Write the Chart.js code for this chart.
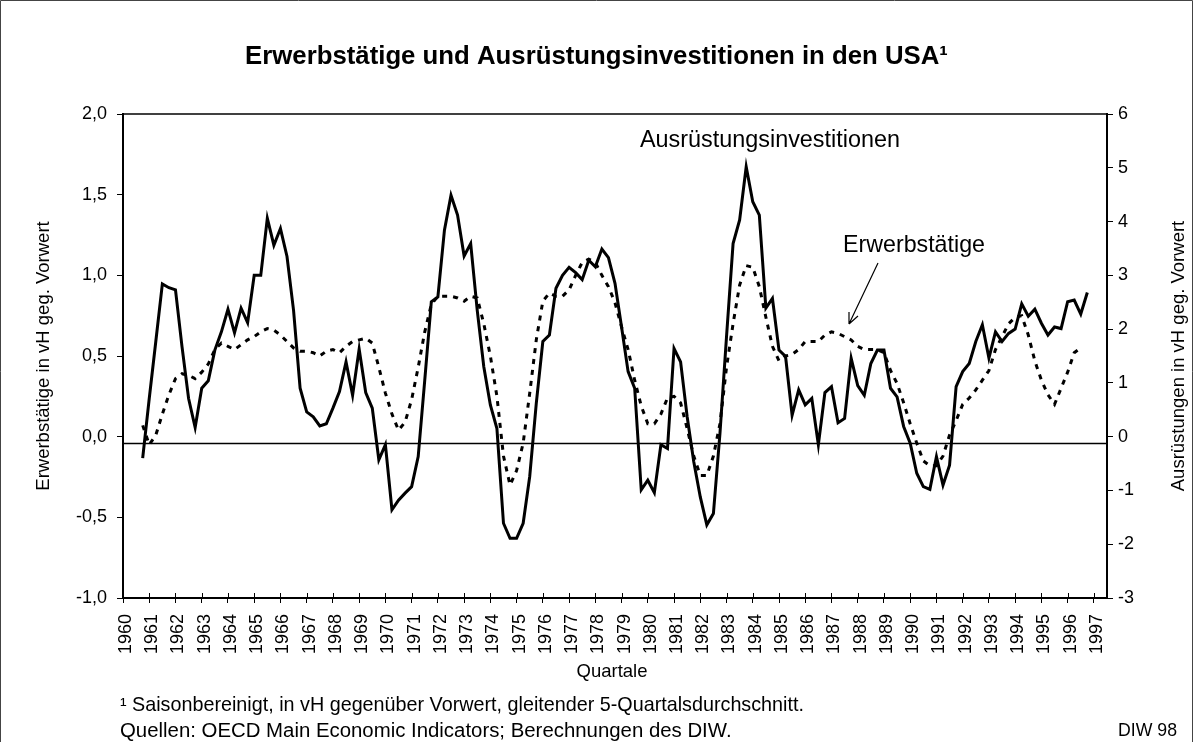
<!DOCTYPE html>
<html lang="de">
<head>
<meta charset="utf-8">
<title>Erwerbstätige und Ausrüstungsinvestitionen in den USA</title>
<script src="https://cdn.jsdelivr.net/npm/chart.js@4.4.1/dist/chart.umd.min.js"></script>
<style>
    html, body { margin: 0; padding: 0; background: #fff; }
    #wrap { position: relative; width: 1193px; height: 742px; }
</style>
</head>
<body>
<div id="wrap"><canvas id="usaChart"></canvas></div>
<script>
// Quartalswerte, gleitender 5-Quartalsdurchschnitt, ab 1960 Q4
const START = 1960.75;

// Ausrüstungsinvestitionen (rechte Achse)
const investitionen = [
    -0.40, 0.71, 1.77, 2.84, 2.77, 2.73, 1.67, 0.71, 0.17, 0.90,
    1.04, 1.61, 1.95, 2.37, 1.93, 2.39, 2.12, 3.00, 3.00, 4.06,
    3.56, 3.87, 3.35, 2.35, 0.90, 0.46, 0.37, 0.20, 0.24, 0.53,
    0.84, 1.39, 0.77, 1.63, 0.82, 0.53, -0.43, -0.15, -1.36, -1.18,
    -1.05, -0.93, -0.37, 1.05, 2.51, 2.60, 3.84, 4.49, 4.12, 3.36,
    3.59, 2.35, 1.30, 0.59, 0.15, -1.61, -1.89, -1.89, -1.61, -0.74,
    0.62, 1.77, 1.89, 2.76, 3.00, 3.15, 3.05, 2.92, 3.28, 3.16,
    3.49, 3.33, 2.85, 2.04, 1.21, 0.90, -0.99, -0.81, -1.04, -0.15,
    -0.22, 1.64, 1.39, 0.37, -0.46, -1.12, -1.64, -1.43, 0.06, 1.86,
    3.59, 4.03, 5.02, 4.37, 4.12, 2.39, 2.57, 1.61, 1.49, 0.40,
    0.87, 0.59, 0.71, -0.15, 0.82, 0.93, 0.26, 0.34, 1.46, 0.95,
    0.77, 1.36, 1.61, 1.61, 0.90, 0.74, 0.19, -0.12, -0.68, -0.93,
    -0.98, -0.37, -0.90, -0.53, 0.93, 1.21, 1.36, 1.77, 2.08, 1.46,
    1.95, 1.77, 1.92, 2.00, 2.47, 2.24, 2.37, 2.11, 1.89, 2.04,
    2.01, 2.51, 2.54, 2.28, 2.68
];

// Erwerbstätige (linke Achse)
const erwerbstaetige = [
    0.07, -0.05, 0.01, 0.14, 0.26, 0.36, 0.39, 0.38, 0.36, 0.40,
    0.45, 0.54, 0.58, 0.56, 0.54, 0.57, 0.60, 0.62, 0.65, 0.67,
    0.66, 0.63, 0.59, 0.55, 0.53, 0.53, 0.52, 0.50, 0.53, 0.54,
    0.52, 0.56, 0.59, 0.60, 0.61, 0.58, 0.43, 0.27, 0.14, 0.04,
    0.09, 0.23, 0.43, 0.65, 0.82, 0.87, 0.87, 0.87, 0.86, 0.84,
    0.87, 0.86, 0.70, 0.50, 0.25, -0.12, -0.30, -0.21, -0.04, 0.27,
    0.60, 0.84, 0.89, 0.87, 0.87, 0.91, 1.00, 1.08, 1.10, 1.08,
    1.00, 0.93, 0.83, 0.68, 0.54, 0.35, 0.19, 0.08, 0.08, 0.14,
    0.24, 0.25, 0.21, 0.05, -0.12, -0.24, -0.24, -0.12, 0.08, 0.43,
    0.70, 0.94, 1.06, 1.05, 0.93, 0.74, 0.56, 0.47, 0.50, 0.51,
    0.54, 0.59, 0.59, 0.59, 0.63, 0.65, 0.64, 0.62, 0.60, 0.56,
    0.54, 0.54, 0.54, 0.52, 0.41, 0.33, 0.21, 0.08, -0.04, -0.15,
    -0.18, -0.18, -0.12, 0.01, 0.10, 0.20, 0.24, 0.29, 0.35, 0.41,
    0.54, 0.62, 0.70, 0.74, 0.75, 0.63, 0.47, 0.35, 0.26, 0.20,
    0.30, 0.40, 0.52, 0.55
];

const JAHRE = [];
for (let j = 1960; j <= 1997; j++) JAHRE.push(j);

const NULLLINIE = -0.04;   // waagerechte Linie liegt knapp unter 0,0
const FONT = "'Liberation Sans', Arial, sans-serif";

Chart.defaults.font.family = FONT;
Chart.defaults.color = "#000";

function toPoints(values) {
    return values.map((v, i) => ({ x: START + i / 4, y: v }));
}

// Text auf eine Zielbreite bringen (Schriftgröße daraus ableiten)
function fitText(ctx, text, x, y, width, opts = {}) {
    const weight = opts.bold ? "bold " : "";
    ctx.font = weight + "100px " + FONT;
    const size = 100 * width / ctx.measureText(text).width;
    ctx.font = weight + size.toFixed(2) + "px " + FONT;
    ctx.textAlign = opts.align || "left";
    ctx.textBaseline = "middle";
    ctx.fillText(text, x, y);
}

function plainText(ctx, text, x, y, size, opts = {}) {
    ctx.save();
    ctx.font = (opts.bold ? "bold " : "") + size + "px " + FONT;
    ctx.textAlign = opts.align || "center";
    ctx.textBaseline = "middle";
    ctx.translate(x, y);
    if (opts.rotate) ctx.rotate(opts.rotate);
    ctx.fillText(text, 0, 0);
    ctx.restore();
}

// ✅ Rahmen, Nulllinie, Beschriftungen
const diwDecor = {
    id: "diwDecor",
    beforeDatasetsDraw(chart) {
        const { ctx, chartArea: a, scales } = chart;
        const y0 = Math.round(scales.yLeft.getPixelForValue(NULLLINIE)) + 0.5;
        ctx.save();
        ctx.strokeStyle = "#000";
        ctx.lineWidth = 1.5;
        ctx.beginPath();
        ctx.moveTo(a.left, y0);
        ctx.lineTo(a.right, y0);
        ctx.stroke();
        ctx.restore();
    },
    afterDraw(chart) {
        const { ctx, chartArea: a, scales } = chart;
        ctx.save();
        ctx.fillStyle = "#000";
        ctx.strokeStyle = "#000";

        // obere Begrenzung der Zeichenfläche
        ctx.lineWidth = 1.5;
        ctx.beginPath();
        ctx.moveTo(a.left, a.top);
        ctx.lineTo(a.right, a.top);
        ctx.stroke();

        // Teilstriche der Zeitachse gehen durch die Achse
        ctx.lineWidth = 1;
        JAHRE.forEach(j => {
            const x = Math.round(scales.x.getPixelForValue(j)) + 0.5;
            ctx.beginPath();
            ctx.moveTo(x, a.bottom - 5);
            ctx.lineTo(x, a.bottom);
            ctx.stroke();
        });

        // Außenrahmen
        ctx.strokeStyle = "#444";
        ctx.beginPath();
        ctx.moveTo(0.5, 742);
        ctx.lineTo(0.5, 0.5);
        ctx.lineTo(1192.5, 0.5);
        ctx.lineTo(1192.5, 742);
        ctx.stroke();

        // Titel
        fitText(ctx, "Erwerbstätige und Ausrüstungsinvestitionen in den USA¹", 596.5, 57, 703, { bold: true, align: "center" });

        // Achsentitel
        plainText(ctx, "Erwerbstätige in vH geg. Vorwert", 44, 356, 18.5, { rotate: -Math.PI / 2 });
        plainText(ctx, "Ausrüstungen in vH geg. Vorwert", 1179, 356, 18.5, { rotate: -Math.PI / 2 });
        plainText(ctx, "Quartale", 612, 672, 18.5);

        // Reihenbeschriftung im Diagramm
        fitText(ctx, "Ausrüstungsinvestitionen", 640, 141, 260);
        fitText(ctx, "Erwerbstätige", 843, 246, 142);

        // Pfeil zur Erwerbstätigen-Linie
        ctx.strokeStyle = "#000";
        ctx.lineWidth = 1.2;
        ctx.beginPath();
        ctx.moveTo(878, 263);
        ctx.lineTo(849, 324);
        ctx.moveTo(849, 324);
        ctx.lineTo(849, 312);
        ctx.moveTo(849, 324);
        ctx.lineTo(858, 316);
        ctx.stroke();

        // Fußnoten
        fitText(ctx, "¹ Saisonbereinigt, in vH gegenüber Vorwert, gleitender 5-Quartalsdurchschnitt.", 120, 706, 684);
        fitText(ctx, "Quellen: OECD Main Economic Indicators; Berechnungen des DIW.", 120, 731, 612);
        fitText(ctx, "DIW 98", 1177, 731, 59, { align: "right" });
        ctx.restore();
    }
};

const ctx = document.getElementById("usaChart").getContext("2d");

new Chart(ctx, {
    type: "line",
    data: {
        datasets: [
            {
                label: "Ausrüstungsinvestitionen",
                data: toPoints(investitionen),
                yAxisID: "yRight",
                borderColor: "#000",
                borderWidth: 3,
                pointRadius: 0,
                tension: 0,
                fill: false
            },
            {
                label: "Erwerbstätige",
                data: toPoints(erwerbstaetige),
                yAxisID: "yLeft",
                borderColor: "#000",
                borderWidth: 3,
                borderDash: [5, 6],
                pointRadius: 0,
                tension: 0,
                fill: false
            }
        ]
    },
    options: {
        responsive: true,
        maintainAspectRatio: false,
        animation: false,
        layout: { padding: { top: 114, left: 0, right: 0, bottom: 0 } },
        plugins: {
            legend: { display: false },
            tooltip: { enabled: false },
            title: { display: false }
        },
        scales: {
            x: {
                type: "linear",
                min: 1960,
                max: 1997.5,
                afterBuildTicks: s => { s.ticks = JAHRE.map(v => ({ value: v })); },
                afterFit: s => { s.height = 144; },
                ticks: {
                    autoSkip: false,
                    minRotation: 90,
                    maxRotation: 90,
                    padding: 11,
                    labelOffset: 3,
                    font: { size: 18 },
                    callback: v => String(v)
                },
                grid: { drawOnChartArea: false, tickLength: 5, color: "#000" },
                border: { color: "#000", width: 2 }
            },
            yLeft: {
                position: "left",
                min: -1,
                max: 2,
                afterFit: s => { s.width = 123; },
                ticks: {
                    stepSize: 0.5,
                    padding: 10,
                    font: { size: 18 },
                    callback: v => v.toFixed(1).replace(".", ",")
                },
                grid: { drawOnChartArea: false, tickLength: 6, color: "#000" },
                border: { color: "#000", width: 2 }
            },
            yRight: {
                position: "right",
                min: -3,
                max: 6,
                afterFit: s => { s.width = 86; },
                ticks: { stepSize: 1, padding: 5, font: { size: 18 } },
                grid: { drawOnChartArea: false, tickLength: 6, color: "#000" },
                border: { color: "#000", width: 2 }
            }
        }
    },
    plugins: [diwDecor]
});
</script>
</body>
</html>
